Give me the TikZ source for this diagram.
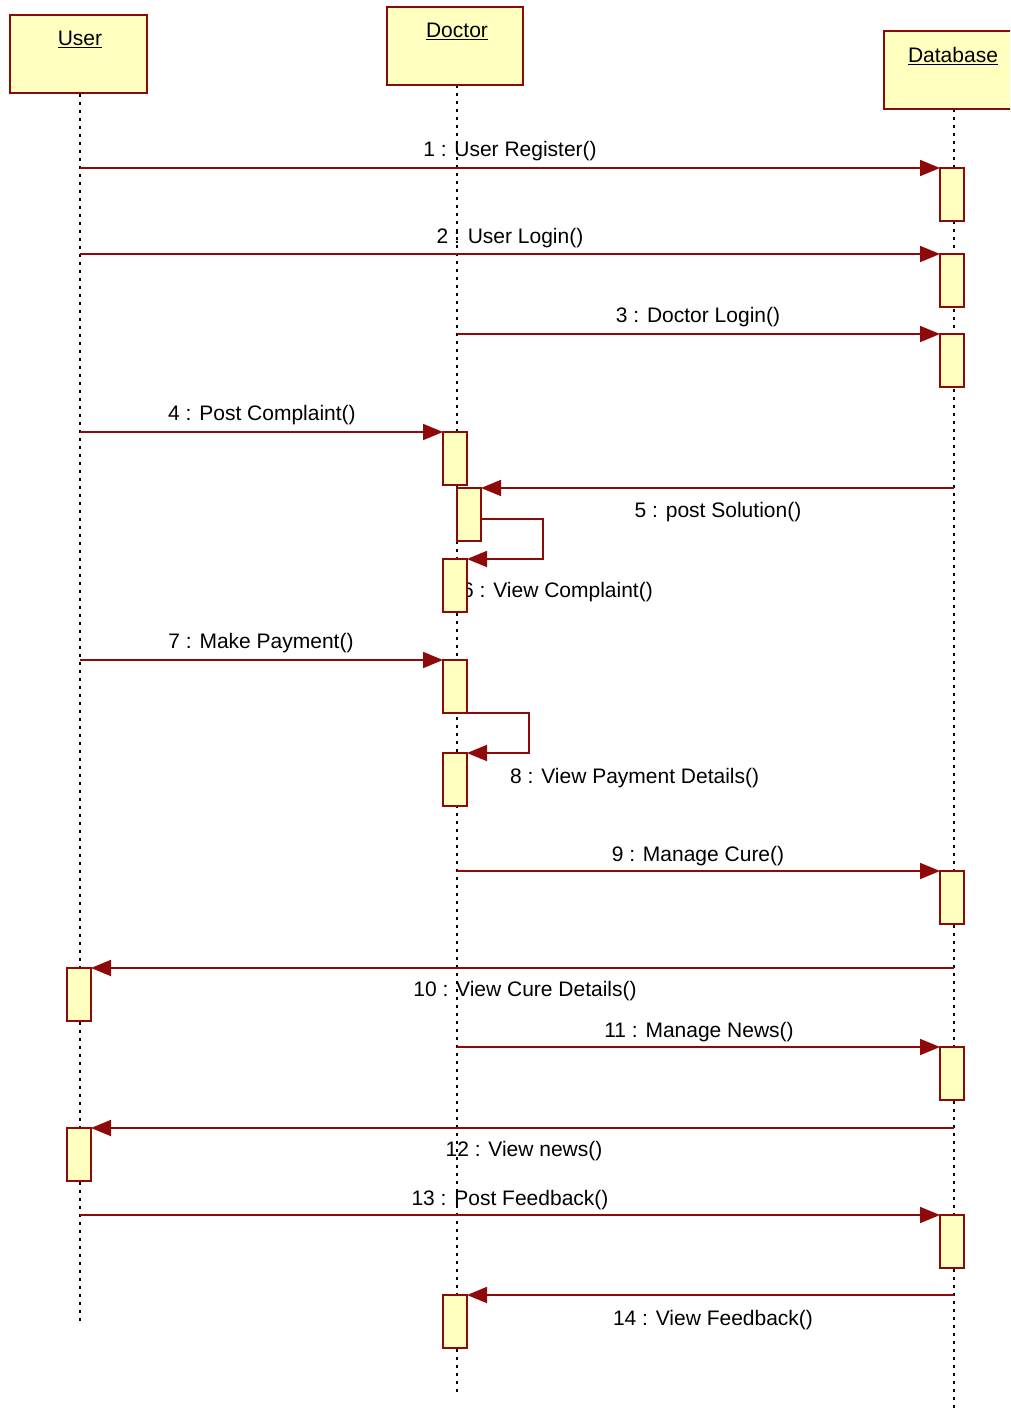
\documentclass[tikz,border=0pt]{standalone}
\usepackage{fontspec}
\setmainfont{Liberation Sans}
\usetikzlibrary{arrows.meta,calc}
\definecolor{umlred}{HTML}{8E0A0A}
\definecolor{umlfill}{HTML}{FFFFC0}
\tikzset{
  obj/.style={draw=umlred,fill=umlfill,line width=2pt,minimum width=#1,minimum height=78pt,inner sep=0pt,outer sep=0pt},
  act/.style={draw=umlred,fill=umlfill,line width=1.8pt,minimum width=24pt,minimum height=53pt,inner sep=0pt,outer sep=0pt},
  life/.style={line width=1.8pt,dash pattern=on 3pt off 5pt},
  msg/.style={draw=umlred,line width=1.8pt,-{Triangle[length=20pt,width=16pt]}},
  lbl/.style={font=\fontsize{21}{24}\selectfont,inner sep=0pt},
  hd/.style={font=\fontsize{21}{24}\selectfont,inner sep=0pt}
}
\begin{document}
\begin{tikzpicture}[x=1pt,y=-1pt]
\useasboundingbox (0,0) rectangle (1010,1410);
\clip (0,0) rectangle (1010,1410);
% lifelines
\draw[life] (80,94) -- (80,1325);
\draw[life] (457,85) -- (457,1395);
\draw[life] (954,109) -- (954,1410);
% objects
\node[obj=137pt,anchor=north west] (user) at (10,15) {};
\node[hd] at (80,39) {\underline{User}};
\node[obj=136pt,anchor=north west] (doctor) at (387,7) {};
\node[hd] at (457,31) {\underline{Doctor}};
\node[obj=140pt,anchor=north west] (db) at (884,31) {};
\node[hd] at (953,56) {\underline{Database}};
% activations on Database
\node[act,anchor=north west] (d1) at (940,168) {};
\node[act,anchor=north west] (d2) at (940,254) {};
\node[act,anchor=north west] (d3) at (940,334) {};
\node[act,anchor=north west] (d9) at (940,871) {};
\node[act,anchor=north west] (d11) at (940,1047) {};
\node[act,anchor=north west] (d13) at (940,1215) {};
% activations on Doctor
\node[act,anchor=north west] (c4) at (443,432) {};
\node[act,anchor=north west] (c5) at (457,488) {};
\node[act,anchor=north west] (c6) at (443,559) {};
\node[act,anchor=north west] (c7) at (443,660) {};
\node[act,anchor=north west] (c8) at (443,753) {};
\node[act,anchor=north west] (c14) at (443,1295) {};
% activations on User
\node[act,anchor=north west] (u10) at (67,968) {};
\node[act,anchor=north west] (u12) at (67,1128) {};
% lifeline coordinates
\coordinate (s1) at (80,168);
\coordinate (s2) at (80,254);
\coordinate (s3) at (457,334);
\coordinate (s4) at (80,432);
\coordinate (s5) at (954,488);
\coordinate (s7) at (80,660);
\coordinate (s9) at (457,871);
\coordinate (s10) at (954,968);
\coordinate (s11) at (457,1047);
\coordinate (s12) at (954,1128);
\coordinate (s13) at (80,1215);
\coordinate (s14) at (954,1295);
% messages
\draw[msg] (s1) -- (d1.north west);
\node[lbl] at (510,151) {1 : User Register()};
\draw[msg] (s2) -- (d2.north west);
\node[lbl] at (510,238) {2 : User Login()};
\draw[msg] (s3) -- (d3.north west);
\node[lbl] at (698,317) {3 : Doctor Login()};
\draw[msg] (s4) -- (c4.north west);
\node[lbl] at (262,415) {4 : Post Complaint()};
\draw[msg] (s5) -- (c5.north east);
\node[lbl] at (718,512) {5 : post Solution()};
\draw[msg] (c5.east |- 0,519) -- (543,519) -- (543,559) -- (c6.north east);
\node[lbl,anchor=west] at (462,592) {6 : View Complaint()};
\node[act,anchor=north west] at (443,559) {};
\draw[msg] (s7) -- (c7.north west);
\node[lbl] at (261,643) {7 : Make Payment()};
\draw[msg] (c7.south east) -- (529,713) -- (529,753) -- (c8.north east);
\node[lbl,anchor=west] at (510,778) {8 : View Payment Details()};
\draw[msg] (s9) -- (d9.north west);
\node[lbl] at (698,856) {9 : Manage Cure()};
\draw[msg] (s10) -- (u10.north east);
\node[lbl] at (525,991) {10 : View Cure Details()};
\draw[msg] (s11) -- (d11.north west);
\node[lbl] at (699,1032) {11 : Manage News()};
\draw[msg] (s12) -- (u12.north east);
\node[lbl] at (524,1151) {12 : View news()};
\draw[msg] (s13) -- (d13.north west);
\node[lbl] at (510,1200) {13 : Post Feedback()};
\draw[msg] (s14) -- (c14.north east);
\node[lbl] at (713,1320) {14 : View Feedback()};
\end{tikzpicture}
\end{document}
